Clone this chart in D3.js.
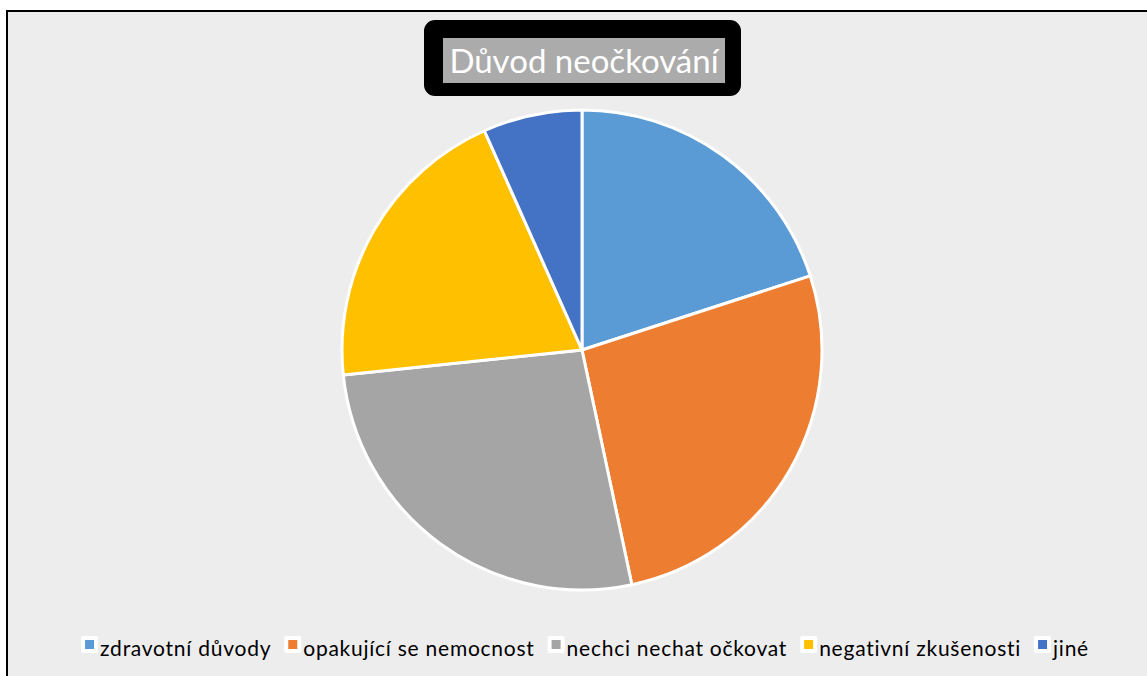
<!DOCTYPE html>
<html><head><meta charset="utf-8">
<script src="https://cdn.jsdelivr.net/npm/d3@7"></script>
<style>html,body{margin:0;padding:0;background:#fff;}svg{display:block;}</style>
</head><body>
<svg id="c" width="1147" height="676"></svg>
<script>
const categories = ["zdravotní důvody","opakující se nemocnost","nechci nechat očkovat","negativní zkušenosti","jiné"];
const values = [3,4,4,3,1];
const colors = ["#5B9BD5","#ED7D31","#A5A5A5","#FFC000","#4472C4"];
const title = "Důvod neočkování";

const svg = d3.select("#c");
const W = 1147, H = 676;
const font = "Lato, 'Open Sans', sans-serif";

// frame
svg.append("rect").attr("x",7).attr("y",11).attr("width",W+10).attr("height",H+10)
  .attr("fill","#EDEDED").attr("stroke","#000").attr("stroke-width",2);

// pie
const cx = 582, cy = 350, r = 240;
const pie = d3.pie().sort(null).value(d=>d)(values);
const arc = d3.arc().innerRadius(0).outerRadius(r);
const g = svg.append("g").attr("transform",`translate(${cx},${cy})`);
g.selectAll("path").data(pie).join("path")
  .attr("d",arc).attr("fill",(d,i)=>colors[i])
  .attr("stroke","#fff").attr("stroke-width",3).attr("stroke-linejoin","round");

// title
svg.append("rect").attr("x",427).attr("y",23).attr("width",311).attr("height",70)
  .attr("rx",8).attr("fill","#000").attr("stroke","#000").attr("stroke-width",6);
svg.append("rect").attr("x",443).attr("y",38).attr("width",282).attr("height",45).attr("fill","#ABABAB");
svg.append("text").attr("x",584).attr("y",73).attr("text-anchor","middle")
  .attr("font-family",font).attr("font-size",33).attr("fill","#fff").text(title);

// legend
const lg = svg.append("g");
const items = lg.selectAll("g").data(categories).join("g");
items.append("rect").attr("x",-4).attr("y",-4).attr("width",17).attr("height",17).attr("rx",2).attr("fill","#fff");
items.append("rect").attr("x",0).attr("y",0).attr("width",9).attr("height",9).attr("fill",(d,i)=>colors[i]);
items.append("text").attr("x",15).attr("y",16).attr("font-family",font).attr("font-size",21)
  .attr("letter-spacing",0.75).attr("fill","#000").text(d=>d);
const gap = 17;
const widths = [];
items.each(function(){ widths.push(15 + this.querySelector("text").getComputedTextLength()); });
const total = d3.sum(widths) + gap*(widths.length-1);
let x = 587 - total/2;
items.attr("transform",(d,i)=>{ const t=`translate(${x},640)`; x += widths[i]+gap; return t; });
</script>
</body></html>
